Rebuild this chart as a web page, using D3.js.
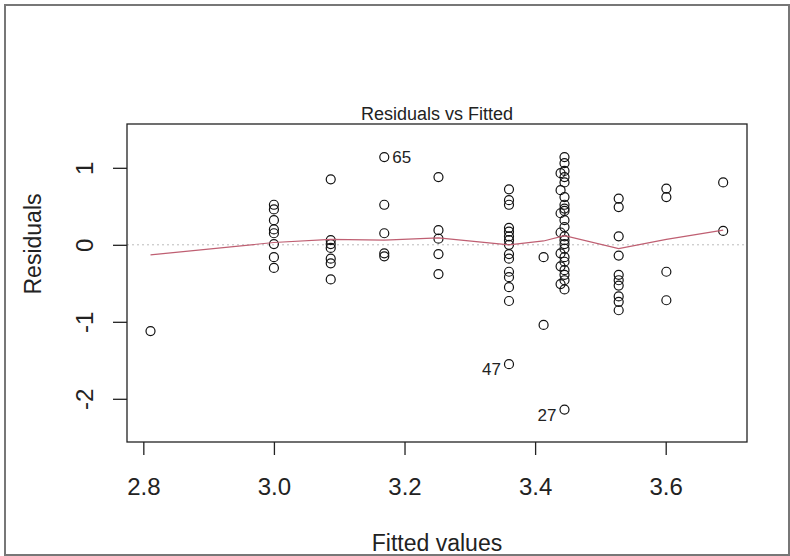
<!DOCTYPE html>
<html>
<head>
<meta charset="utf-8">
<script src="https://cdn.jsdelivr.net/npm/d3@7"></script>
<style>
  body { margin: 0; background: #fff; }
  text { font-family: "Liberation Sans", Arial, sans-serif; fill: #222; }
</style>
</head>
<body>
<div id="chart"></div>
<script>
// Fitted values (one per group of observations) and their residuals
var groupFitted = [2.811, 3.0, 3.087, 3.169, 3.252, 3.36, 3.413, 3.439, 3.445, 3.528, 3.601, 3.688];
var groupResiduals = [
  [-1.12],
  [0.52, 0.46, 0.32, 0.20, 0.15, 0.01, -0.16, -0.30],
  [0.85, 0.06, 0.01, -0.04, -0.18, -0.24, -0.45],
  [1.14, 0.52, 0.15, -0.11, -0.15],
  [0.88, 0.19, 0.08, -0.12, -0.38],
  [0.72, 0.58, 0.52, 0.22, 0.17, 0.11, 0.06, 0.0, -0.12, -0.18, -0.35, -0.42, -0.55, -0.73, -1.55],
  [-0.16, -1.04],
  [0.93, 0.71, 0.41, 0.16, -0.11, -0.28, -0.51],
  [1.14, 1.06, 0.96, 0.88, 0.81, 0.62, 0.52, 0.47, 0.44, 0.32, 0.23, 0.11, 0.06, 0.01, -0.05, -0.16, -0.22, -0.33, -0.39, -0.46, -0.58, -2.14],
  [0.60, 0.49, 0.11, -0.14, -0.39, -0.46, -0.53, -0.67, -0.74, -0.85],
  [0.73, 0.62, -0.35, -0.72],
  [0.81, 0.18]
];

// Smoothed (lowess) line
var smoothFitted = [2.811, 3.0, 3.087, 3.169, 3.252, 3.36, 3.413, 3.445, 3.528, 3.601, 3.688];
var smoothResid = [-0.13, 0.03, 0.07, 0.06, 0.09, 0.0, 0.05, 0.12, -0.05, 0.07, 0.19];

// Labelled outliers
var idLabels = ["65", "47", "27"];
var idFitted = [3.169, 3.36, 3.445];
var idResid = [1.14, -1.55, -2.14];

var xTicks = [2.8, 3.0, 3.2, 3.4, 3.6];
var yTicks = [-2, -1, 0, 1];

var data = [];
groupFitted.forEach(function(f, i) {
  groupResiduals[i].forEach(function(r) { data.push({ fitted: f, resid: r }); });
});

var width = 790, height = 556;
var plotLeft = 127, plotRight = 747, plotTop = 124, plotBottom = 442;

var svg = d3.select("#chart")
  .append("svg")
  .attr("width", width)
  .attr("height", height);

// outer frame of the picture
svg.append("rect")
  .attr("x", 5).attr("y", 5)
  .attr("width", 784).attr("height", 550)
  .attr("fill", "none")
  .attr("stroke", "#777")
  .attr("stroke-width", 2);

var x = d3.scaleLinear().domain([2.775, 3.7245]).range([plotLeft, plotRight]);
var y = d3.scaleLinear().domain([-2.561, 1.569]).range([plotBottom, plotTop]);

// zero reference line
svg.append("line")
  .attr("x1", plotLeft).attr("x2", plotRight)
  .attr("y1", y(0)).attr("y2", y(0))
  .attr("stroke", "#bbb")
  .attr("stroke-width", 1)
  .attr("stroke-dasharray", "2,3");

// points
svg.append("g")
  .selectAll("circle")
  .data(data)
  .enter().append("circle")
  .attr("cx", function(d) { return x(d.fitted); })
  .attr("cy", function(d) { return y(d.resid); })
  .attr("r", 4.5)
  .attr("fill", "none")
  .attr("stroke", "#111")
  .attr("stroke-width", 1.2);

// smooth line
var line = d3.line()
  .x(function(d, i) { return x(smoothFitted[i]); })
  .y(function(d) { return y(d); });

svg.append("path")
  .datum(smoothResid)
  .attr("d", line)
  .attr("fill", "none")
  .attr("stroke", "#bf5f72")
  .attr("stroke-width", 1.2);

// outlier labels
idLabels.forEach(function(lab, i) {
  var onRight = i == 0;
  svg.append("text")
    .attr("x", x(idFitted[i]) + (onRight ? 8 : -8))
    .attr("y", y(idResid[i]) + (onRight ? 6 : 11))
    .attr("text-anchor", onRight ? "start" : "end")
    .style("font-size", "17px")
    .text(lab);
});

// axes (plain hyphen for negatives, like R)
var xAxis = svg.append("g")
  .attr("transform", "translate(0," + plotBottom + ")")
  .call(d3.axisBottom(x).tickValues(xTicks).tickSize(13).tickFormat(function(d) { return d.toFixed(1); }));
xAxis.select(".domain").remove();
xAxis.selectAll("line").attr("stroke", "#222").attr("stroke-width", 1.3);
xAxis.selectAll("text")
  .attr("y", 53).attr("dy", 0)
  .attr("fill", "#222")
  .style("font-size", "24px");

var yAxis = svg.append("g")
  .attr("transform", "translate(" + plotLeft + ",0)")
  .call(d3.axisLeft(y).tickValues(yTicks).tickSize(14).tickFormat(function(d) { return String(d); }));
yAxis.select(".domain").remove();
yAxis.selectAll("line").attr("stroke", "#222").attr("stroke-width", 1.3);
yAxis.selectAll("text")
  .attr("transform", "rotate(-90)")
  .attr("x", 0).attr("y", -34).attr("dy", 0)
  .attr("text-anchor", "middle")
  .attr("fill", "#222")
  .style("font-size", "24px");

// plot box
svg.append("rect")
  .attr("x", plotLeft).attr("y", plotTop)
  .attr("width", plotRight - plotLeft).attr("height", plotBottom - plotTop)
  .attr("fill", "none")
  .attr("stroke", "#222")
  .attr("stroke-width", 1.3);

// titles
svg.append("text")
  .attr("x", (plotLeft + plotRight) / 2).attr("y", 120)
  .attr("text-anchor", "middle")
  .style("font-size", "18px")
  .text("Residuals vs Fitted");

svg.append("text")
  .attr("x", (plotLeft + plotRight) / 2).attr("y", 551)
  .attr("text-anchor", "middle")
  .style("font-size", "23px")
  .text("Fitted values");

svg.append("text")
  .attr("transform", "translate(41,244) rotate(-90)")
  .attr("text-anchor", "middle")
  .style("font-size", "23px")
  .text("Residuals");
</script>
</body>
</html>
